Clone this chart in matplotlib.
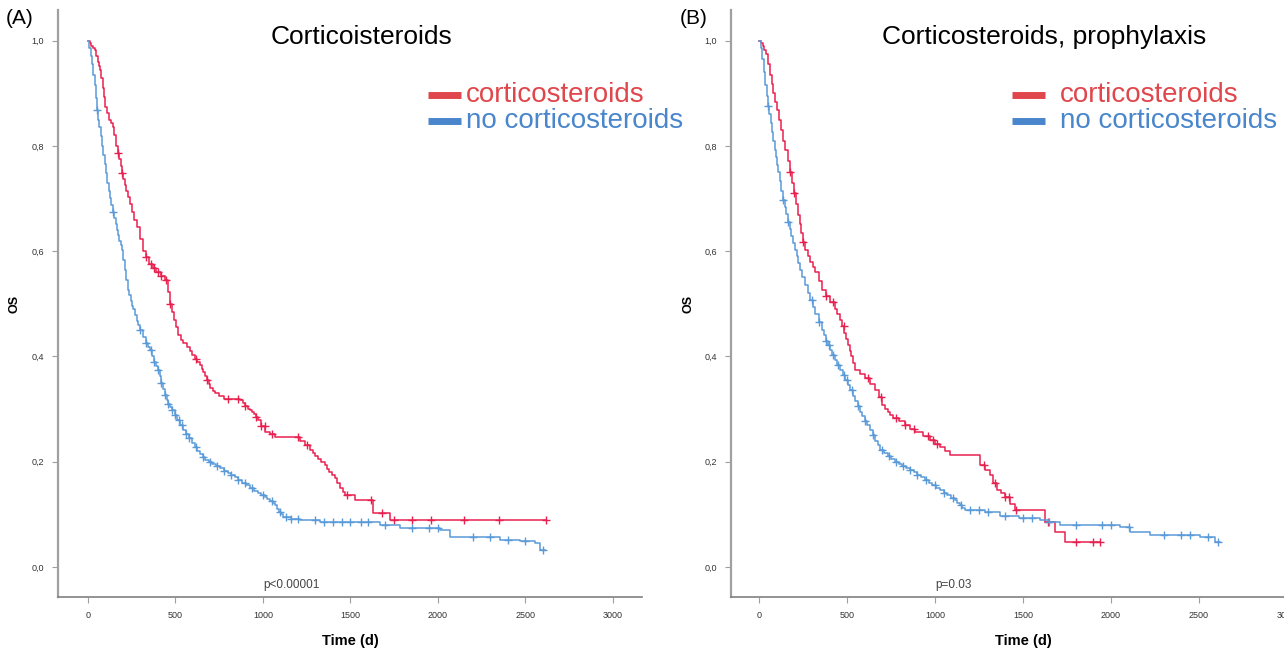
import numpy as np
import matplotlib
matplotlib.use("Agg")
import matplotlib.pyplot as plt
from matplotlib.lines import Line2D

plt.rcParams['font.family'] = ['Liberation Sans', 'DejaVu Sans']

RED = '#e8204f'
BLUE = '#5b9ad8'
RED_LEG = '#e0474c'
BLUE_LEG = '#4a86cc'

# ---------------- Panel A data ----------------
a_red_t = [0, 10, 20, 30, 40, 48, 55, 62, 69, 76, 85, 91, 97, 108, 120, 132, 143, 150, 160, 170, 180,
           187, 194, 202, 210, 220, 229, 240, 250, 265, 280, 297, 314, 330, 350, 370, 390, 415, 440,
           455, 469, 480, 490, 502, 514, 530, 545, 565, 583, 597, 610, 625, 640, 650, 660, 670, 680,
           690, 700, 713, 726, 750, 780, 869, 885, 900, 913, 926, 938, 950, 960, 971, 990, 1011,
           1040, 1069, 1211, 1240, 1269, 1285, 1300, 1315, 1330, 1354, 1367, 1380, 1395, 1411, 1425,
           1440, 1455, 1469, 1526, 1629, 1726, 2620]
a_red_s = [1.0, 0.995, 0.99, 0.985, 0.982, 0.97, 0.96, 0.952, 0.944, 0.928, 0.91, 0.892, 0.874, 0.862,
           0.85, 0.843, 0.836, 0.82, 0.80, 0.787, 0.775, 0.762, 0.749, 0.737, 0.725, 0.714, 0.703,
           0.689, 0.675, 0.66, 0.646, 0.623, 0.60, 0.588, 0.575, 0.567, 0.56, 0.553, 0.545, 0.522,
           0.50, 0.485, 0.47, 0.455, 0.44, 0.432, 0.425, 0.418, 0.41, 0.402, 0.395, 0.39, 0.384,
           0.377, 0.37, 0.362, 0.355, 0.347, 0.34, 0.335, 0.33, 0.325, 0.32, 0.317, 0.311, 0.305,
           0.301, 0.298, 0.294, 0.29, 0.285, 0.28, 0.268, 0.257, 0.252, 0.247, 0.24, 0.232, 0.222,
           0.216, 0.21, 0.205, 0.20, 0.194, 0.187, 0.18, 0.175, 0.169, 0.16, 0.15, 0.143, 0.137,
           0.127, 0.103, 0.089, 0.089]
a_red_cens = [171, 194, 330, 360, 380, 400, 420, 445, 470, 620, 680, 800, 860, 900, 960, 990, 1010,
              1050, 1200, 1250, 1480, 1620, 1680, 1750, 1850, 1960, 2150, 2350, 2620]

a_blue_t = [0, 8, 15, 22, 30, 38, 45, 51, 58, 65, 72, 80, 88, 95, 102, 110, 118, 126, 134, 143, 150,
            158, 166, 173, 180, 187, 194, 203, 212, 220, 229, 237, 245, 253, 260, 270, 280, 288, 297,
            313, 330, 342, 354, 367, 380, 390, 400, 410, 420, 430, 440, 450, 460, 470, 480, 495, 510,
            527, 543, 560, 575, 593, 611, 625, 640, 655, 669, 690, 710, 730, 754, 777, 800, 820, 840,
            860, 880, 903, 926, 948, 970, 990, 1011, 1025, 1040, 1055, 1069, 1080, 1090, 1102, 1114,
            1160, 1211, 1326, 1669, 1783, 2011, 2069, 2354, 2469, 2554, 2583, 2610]
a_blue_s = [1.0, 0.985, 0.97, 0.955, 0.935, 0.915, 0.89, 0.868, 0.85, 0.835, 0.818, 0.80, 0.782, 0.765,
            0.748, 0.73, 0.715, 0.70, 0.688, 0.675, 0.663, 0.652, 0.64, 0.63, 0.62, 0.611, 0.602,
            0.583, 0.564, 0.545, 0.526, 0.516, 0.505, 0.495, 0.49, 0.478, 0.468, 0.459, 0.45, 0.437,
            0.425, 0.418, 0.412, 0.40, 0.39, 0.382, 0.374, 0.362, 0.35, 0.338, 0.327, 0.318, 0.31,
            0.304, 0.298, 0.289, 0.28, 0.27, 0.26, 0.252, 0.245, 0.236, 0.228, 0.221, 0.215, 0.209,
            0.203, 0.199, 0.195, 0.191, 0.188, 0.183, 0.178, 0.174, 0.171, 0.165, 0.16, 0.155, 0.15,
            0.145, 0.14, 0.136, 0.133, 0.129, 0.125, 0.121, 0.118, 0.111, 0.105, 0.10, 0.095, 0.092,
            0.089, 0.085, 0.08, 0.074, 0.07, 0.057, 0.051, 0.049, 0.046, 0.032, 0.032]
a_blue_cens = [51, 143, 300, 330, 360, 380, 400, 420, 440, 460, 480, 500, 520, 540, 560, 580, 620,
               660, 700, 740, 780, 820, 860, 900, 940, 1000, 1050, 1100, 1130, 1160, 1200, 1300, 1350,
               1400, 1450, 1500, 1560, 1600, 1700, 1850, 1950, 2000, 2200, 2300, 2400, 2500, 2600]

# ---------------- Panel B data ----------------
b_red_t = [0, 10, 20, 30, 40, 50, 62, 71, 80, 91, 102, 113, 125, 137, 148, 162, 176, 188, 200, 211,
           222, 231, 240, 250, 261, 275, 290, 304, 318, 338, 358, 380, 403, 430, 445, 460, 473, 485,
           496, 506, 515, 525, 535, 545, 575, 602, 630, 659, 680, 699, 715, 730, 745, 761, 795, 830,
           858, 886, 930, 972, 1000, 1028, 1056, 1085, 1256, 1285, 1312, 1332, 1352, 1375, 1398,
           1427, 1455, 1625, 1682, 1739, 1938]
b_red_s = [1.0, 0.995, 0.99, 0.982, 0.975, 0.955, 0.935, 0.918, 0.90, 0.884, 0.868, 0.85, 0.83, 0.81,
           0.792, 0.771, 0.75, 0.73, 0.71, 0.69, 0.669, 0.652, 0.635, 0.618, 0.602, 0.59, 0.58, 0.57,
           0.56, 0.543, 0.526, 0.515, 0.503, 0.49, 0.48, 0.469, 0.457, 0.445, 0.433, 0.422, 0.41,
           0.40, 0.387, 0.374, 0.367, 0.359, 0.347, 0.336, 0.322, 0.308, 0.301, 0.295, 0.289, 0.283,
           0.277, 0.27, 0.263, 0.257, 0.249, 0.241, 0.234, 0.228, 0.22, 0.213, 0.194, 0.185, 0.175,
           0.16, 0.146, 0.14, 0.133, 0.12, 0.108, 0.085, 0.066, 0.047, 0.047]
b_red_cens = [176, 200, 250, 380, 420, 480, 620, 690, 780, 830, 880, 960, 990, 1010, 1280, 1340,
              1400, 1420, 1460, 1640, 1800, 1900, 1938]

b_blue_t = [0, 8, 15, 25, 35, 43, 51, 58, 65, 72, 80, 88, 95, 102, 110, 118, 127, 136, 145, 155, 165,
            174, 183, 193, 203, 213, 223, 233, 246, 260, 275, 290, 305, 320, 339, 358, 369, 380, 391,
            403, 416, 430, 445, 460, 475, 490, 503, 517, 531, 545, 560, 574, 587, 600, 615, 631, 645,
            660, 673, 687, 708, 730, 751, 773, 794, 815, 836, 858, 879, 900, 921, 943, 964, 985, 1006,
            1028, 1049, 1070, 1092, 1114, 1127, 1140, 1155, 1170, 1284, 1369, 1480, 1597, 1650, 1710,
            2051, 2108, 2222, 2506, 2591, 2620]
b_blue_s = [1.0, 0.985, 0.965, 0.94, 0.915, 0.895, 0.875, 0.86, 0.843, 0.827, 0.81, 0.793, 0.778,
            0.764, 0.75, 0.733, 0.715, 0.697, 0.683, 0.67, 0.656, 0.642, 0.628, 0.615, 0.602, 0.59,
            0.577, 0.564, 0.55, 0.535, 0.521, 0.507, 0.493, 0.48, 0.465, 0.45, 0.44, 0.43, 0.421,
            0.412, 0.402, 0.393, 0.383, 0.374, 0.364, 0.355, 0.345, 0.336, 0.325, 0.315, 0.305, 0.295,
            0.287, 0.278, 0.269, 0.26, 0.25, 0.24, 0.231, 0.222, 0.216, 0.21, 0.205, 0.20, 0.196,
            0.192, 0.188, 0.184, 0.18, 0.175, 0.17, 0.165, 0.16, 0.155, 0.15, 0.146, 0.141, 0.136,
            0.131, 0.127, 0.122, 0.118, 0.113, 0.108, 0.105, 0.097, 0.093, 0.089, 0.085, 0.08, 0.076,
            0.066, 0.061, 0.057, 0.047, 0.047]
b_blue_cens = [51, 136, 165, 300, 340, 380, 400, 420, 450, 480, 500, 530, 560, 600, 650, 700, 740,
               780, 820, 860, 900, 950, 1000, 1050, 1100, 1150, 1200, 1250, 1300, 1400, 1500, 1550,
               1650, 1800, 1950, 2000, 2100, 2300, 2400, 2450, 2550, 2610]

titles = ['Corticoisteroids', 'Corticosteroids, prophylaxis']
panel_labels = ['(A)', '(B)']
p_texts = ['p<0.00001', 'p=0.03']
legend_labels = ['corticosteroids', 'no corticosteroids']
x_ticks = [0, 500, 1000, 1500, 2000, 2500, 3000]
y_ticks = [0.0, 0.2, 0.4, 0.6, 0.8, 1.0]
y_tick_labels = ['0,0', '0,2', '0,4', '0,6', '0,8', '1,0']

W, H = 1284, 648
fig = plt.figure(figsize=(W / 100, H / 100), dpi=100)


def step_val(t, s, x):
    idx = np.searchsorted(np.asarray(t), np.asarray(x), side='right') - 1
    return np.asarray(s)[idx]


def make_panel(rect_px, xlim, curves, title, title_x, plabel, plabel_x, ptext, leg_px, os_x):
    l, r, top, bot = rect_px
    ax = fig.add_axes([l / W, 1 - bot / H, (r - l) / W, (bot - top) / H])
    for t, s, cens, col in curves:
        ax.plot(t, s, drawstyle='steps-post', color=col, lw=1.1)
        ax.plot(cens, step_val(t, s, cens), ls='none', marker='+', ms=6, mew=1.0, color=col)
    ax.set_xlim(*xlim)
    ax.set_ylim(-0.057, 1.058)
    ax.set_xticks(x_ticks)
    ax.set_xticklabels([str(v) for v in x_ticks])
    ax.set_yticks(y_ticks)
    ax.set_yticklabels(y_tick_labels)
    for sp in ['top', 'right']:
        ax.spines[sp].set_visible(False)
    ax.spines['left'].set_color('#a0a0a0')
    ax.spines['left'].set_linewidth(1.6)
    ax.spines['bottom'].set_color('#808080')
    ax.spines['bottom'].set_linewidth(1.2)
    ax.tick_params(axis='both', length=4, width=0.8, color='#a0a0a0', labelsize=6.5,
                   labelcolor='#333333', pad=6)
    ax.set_xlabel('Time (d)', fontsize=10.5, fontweight='bold', labelpad=10)
    ax.set_ylabel('OS', fontsize=9, fontweight='bold')
    ax.yaxis.set_label_coords((os_x - l) / (r - l), 0.5)
    ax.text(1000, -0.035, ptext, fontsize=8.5, color='#444444', ha='left', va='center')
    fig.text(title_x / W, 1 - 37 / H, title, fontsize=19, ha='center', va='center')
    fig.text(plabel_x / W, 1 - 18 / H, plabel, fontsize=15, ha='left', va='center')
    lx0, lx1, tx = leg_px
    for yy, col, lab in [(95, RED_LEG, legend_labels[0]), (121, BLUE_LEG, legend_labels[1])]:
        fig.add_artist(Line2D([lx0 / W, lx1 / W], [1 - yy / H, 1 - yy / H], color=col, lw=5,
                              solid_capstyle='butt'))
        fig.text(tx / W, 1 - yy / H, lab, fontsize=20, color=col, ha='left', va='center')
    return ax


make_panel((58, 642, 10, 597), (-171, 3166),
           [(a_red_t, a_red_s, a_red_cens, RED), (a_blue_t, a_blue_s, a_blue_cens, BLUE)],
           titles[0], 361, panel_labels[0], 6, p_texts[0], (428, 461, 466), 21)
make_panel((731, 1316, 10, 597), (-160, 3166),
           [(b_red_t, b_red_s, b_red_cens, RED), (b_blue_t, b_blue_s, b_blue_cens, BLUE)],
           titles[1], 1044, panel_labels[1], 680, p_texts[1], (1012, 1045, 1060), 695)

fig.savefig('out.png', dpi=100)
